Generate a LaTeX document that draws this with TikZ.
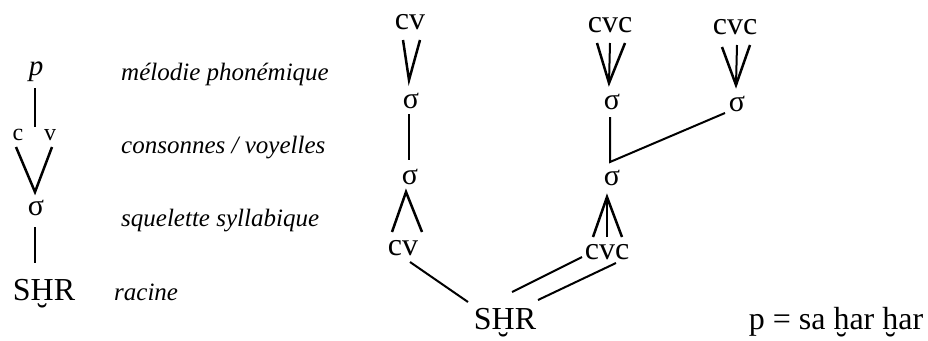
\documentclass[tikz,border=0pt]{standalone}
\usepackage{fontspec}
\setmainfont{Liberation Serif}
\usetikzlibrary{calc}
\newcommand\mybreve[1]{\ooalign{#1\cr\hidewidth\raisebox{-0.80em}[0pt][0pt]{\char"02D8}\hidewidth\cr}}
\tikzset{
  big/.style={inner sep=0pt, font=\fontsize{32}{38}\selectfont},
  sig/.style={inner sep=0pt, font=\fontsize{30}{36}\selectfont},
  small/.style={inner sep=0pt, font=\fontsize{24}{28}\selectfont},
  lab/.style={inner sep=0pt, anchor=base west, font=\fontsize{25}{29}\selectfont\itshape},
  ln/.style={line width=2pt},
  vee/.style={line width=2.5pt, line join=miter},
}
\begin{document}
\begin{tikzpicture}[x=1pt,y=-1pt]
\useasboundingbox (0,0) rectangle (928,340);
% ---------- left legend ----------
\node[inner sep=0pt, anchor=base, font=\fontsize{29}{34}\selectfont\itshape] (pL) at (36,75) {p};
\node[small] (cL) at (18,135) {c};
\node[small] (vL) at (50,135) {v};
\node[sig] (sL) at (36,208) {σ};
\node[big, anchor=base] (rL) at (44,300) {S\mybreve{H}R};
\node[lab] (l1) at (121,80) {mélodie phonémique};
\node[lab] (l2) at (121,153) {consonnes / voyelles};
\node[lab] (l3) at (121,226) {squelette syllabique};
\node[lab] (l4) at (114,300) {racine};
\draw[ln] ($(pL.base)+(-1,13)$) -- ($(cL)+(17,-8)$);
\draw[vee] ($(cL)+(-2,12)$) -- ($(sL)+(-1,-16)$) -- ($(vL)+(2,12)$);
\draw[ln] ($(sL)+(-1,19)$) -- ($(rL.base)+(-9,-37)$);
% ---------- right tree ----------
\node[big] (cv1) at (410,22) {cv};
\node[sig] (s1) at (411,101) {σ};
\node[sig] (s2) at (410,177) {σ};
\node[big] (cv2) at (403,248) {cv};
\node[big] (cvc1) at (610,25) {cvc};
\node[sig] (s3) at (612,102) {σ};
\node[big] (cvc2) at (735,27) {cvc};
\node[sig] (s4) at (737,104) {σ};
\node[sig] (s5) at (612,178) {σ};
\node[big] (cvc3) at (607,252) {cvc};
\node[big, anchor=base] (root) at (505,329) {S\mybreve{H}R};
\node[big, anchor=base] (formula) at (836,329) {p = sa \mybreve{h}ar \mybreve{h}ar};
\coordinate (j) at (610,162);
% cv -> sigma
\draw[vee] ($(cv1)+(-7,18)$) -- ($(s1)+(-2,-21)$) -- ($(cv1)+(10,18)$);
\draw[ln] ($(s1)+(-2,13)$) -- ($(s2)+(-1,-17)$);
\draw[vee] ($(cv2)+(-11,-16)$) -- ($(s2)+(-4,15)$) -- ($(cv2)+(19,-16)$);
\draw[ln] ($(cv2)+(7,14)$) -- ($(root.base)+(-37,-27)$);
% cvc -> sigma (middle)
\draw[vee] ($(cvc1)+(-13,18)$) -- ($(s3)+(-3,-19)$) -- ($(cvc1)+(15,18)$);
\draw[ln] ($(cvc1)+(0,18)$) -- ($(s3)+(-3,-19)$);
\draw[ln] ($(s3)+(-2,15)$) -- (j) -- ($(s4)+(-12,9)$);
% cvc -> sigma (right)
\draw[vee] ($(cvc2)+(-13,20)$) -- ($(s4)+(-1,-19)$) -- ($(cvc2)+(15,18)$);
\draw[ln] ($(cvc2)+(2,18)$) -- ($(s4)+(-1,-19)$);
% sigma -> cvc (lower)
\draw[vee] ($(cvc3)+(-14,-15)$) -- ($(s5)+(-5,19)$) -- ($(cvc3)+(15,-15)$);
\draw[vee] ($(cvc3)+(0,-15)$) -- ($(s5)+(-5,19)$);
% double link cvc -> root
\draw[ln] ($(cvc3)+(-25,5)$) -- ($(root.base)+(7,-37)$);
\draw[ln] ($(cvc3)+(9,11)$) -- ($(root.base)+(33,-29)$);
\end{tikzpicture}
\end{document}
